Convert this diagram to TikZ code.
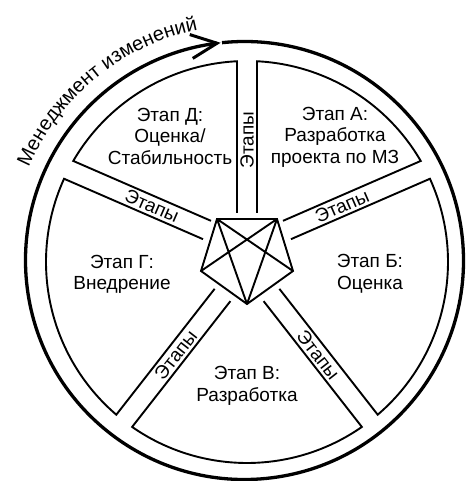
\documentclass[tikz,border=0pt]{standalone}
\usepackage{fontspec}
\setmainfont{Liberation Sans}
\usetikzlibrary{calc,decorations.text}
\newcommand\mysector[2]{%
  \pgfmathsetmacro\myStA{\csname anga#1\endcsname}%
  \pgfmathsetmacro\myEnA{\csname angb#2\endcsname}%
  \pgfmathsetmacro\myEnA{\myEnA+360*(\myEnA<\myStA)}%
  \draw[ln] (a#1) -- (aE#1) arc[start angle=\myStA, end angle=\myEnA, radius=201pt] -- (b#2);}
\begin{document}
\begin{tikzpicture}[x=1pt,y=1pt,
  ln/.style={line width=1.9pt, line join=miter},
  lbl/.style={font=\fontsize{19}{21.5}\selectfont, align=center, inner sep=0pt},
  band/.style={font=\fontsize{19}{20}\selectfont, inner sep=0pt}]
\useasboundingbox (-247,-219) rectangle (219,262);
% spokes: bases and end points on the inner circle
\foreach \n/\bx/\by/\a in {1/0/49/90, 2/40/32/23.5, 3/24.5/-33/-52, 4/-24.5/-33/-128, 5/-40/32/156.5}{
  \coordinate (c\n) at (\bx,\by);
  \foreach \sg/\side in {1/a, -1/b}{
    \pgfmathsetmacro\myPx{\bx+(\sg)*10*cos(\a+90)}
    \pgfmathsetmacro\myPy{\by+(\sg)*10*sin(\a+90)}
    \pgfmathsetmacro\myQx{\myPx/100}
    \pgfmathsetmacro\myQy{\myPy/100}
    \pgfmathsetmacro\myD{\myQx*cos(\a)+\myQy*sin(\a)}
    \pgfmathsetmacro\myT{-\myD+sqrt(\myD*\myD-\myQx*\myQx-\myQy*\myQy+2.01*2.01)}
    \pgfmathsetmacro\myAng{atan2(\myQy+\myT*sin(\a),\myQx+\myT*cos(\a))}
    \coordinate (\side\n) at (\myPx,\myPy);
    \coordinate (\side E\n) at (\myAng:201);
    \expandafter\xdef\csname ang\side\n\endcsname{\myAng}
  }
}
% sectors
\mysector{2}{1}
\mysector{1}{5}
\mysector{5}{4}
\mysector{4}{3}
\mysector{3}{2}
% pentagon with star
\coordinate (p1) at (-30,43);
\coordinate (p2) at (30,43);
\coordinate (p3) at (46,-9);
\coordinate (p4) at (0,-42);
\coordinate (p5) at (-46,-9);
\draw[ln] (p1)--(p2)--(p3)--(p4)--(p5)--cycle;
\draw[ln] (p1)--(p3) (p1)--(p4) (p2)--(p5) (p2)--(p4);
% outer circle with arrow
\coordinate (oc) at (-2.5,1.5);
\draw[line width=3.3pt] ($(oc)+(-262.8:219)$) arc[start angle=-262.8, end angle=95.9, radius=219pt];
\coordinate (tip) at ($(oc)+(97.2:219)$);
\draw[line width=3pt, line join=miter] ($(tip)+(187.2:26)+(97.2:12)$) -- (tip) -- ($(tip)+(187.2:26)+(-82.8:12)$);
\path[decorate, decoration={text along path, text={|\fontsize{20}{22}\selectfont|Менеджмент изменений}, text align=center}]
  ($(oc)+(175:235)$) arc[start angle=175, end angle=83, radius=235pt];
% labels
\node[lbl] (tD) at (-77,126) {Этап Д:\\Оценка/\\Стабильность};
\node[lbl] (tA) at (88,125) {Этап А:\\Разработка\\проекта по МЗ};
\node[lbl] (tG) at (-125,-12.5) {Этап Г:\\Внедрение};
\node[lbl] (tB) at (123,-12) {Этап Б:\\Оценка};
\node[lbl] (tV) at (0,-124) {Этап В:\\Разработка};
\node[band, rotate=90] (e1) at ($(c1)+(90:73)$) {Этапы};
\node[band, rotate=23.5] (e2) at ($(c2)+(23.5:60)$) {Этапы};
\node[band, rotate=-52] (e3) at ($(c3)+(-52:76)$) {Этапы};
\node[band, rotate=52] (e4) at ($(c4)+(-128:76)$) {Этапы};
\node[band, rotate=-23.5] (e5) at ($(c5)+(156.5:60)$) {Этапы};
\end{tikzpicture}
\end{document}
